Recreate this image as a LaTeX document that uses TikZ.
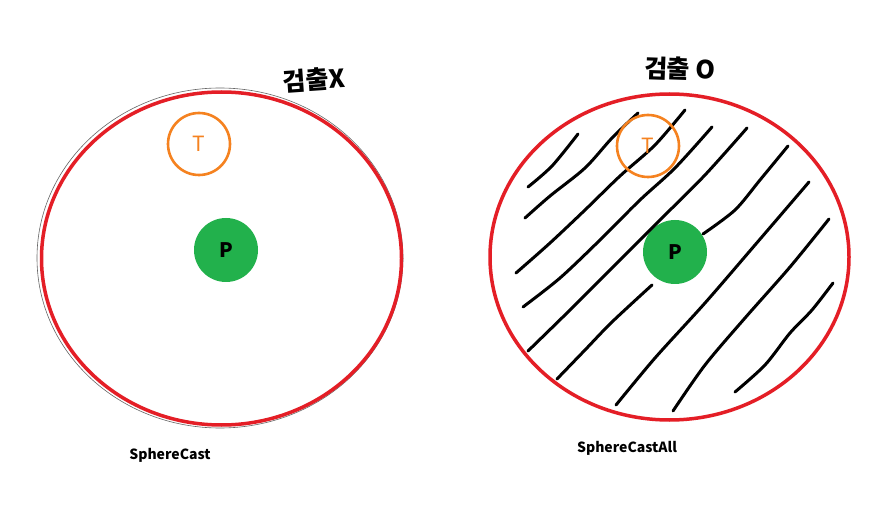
\documentclass[tikz,border=0pt]{standalone}
\usepackage{fontspec}
\setmainfont{Noto Sans CJK KR}
\newfontfamily\krfont{Noto Sans CJK KR}
\usetikzlibrary{shapes.geometric}
\definecolor{redc}{RGB}{228,30,38}
\definecolor{orangec}{RGB}{245,130,32}
\definecolor{greenc}{RGB}{34,177,76}
\tikzset{
  bigsphere/.style={ellipse, draw=redc, line width=3.5pt, inner sep=0pt},
  ghost/.style={ellipse, draw=black!60, line width=0.6pt, inner sep=0pt},
  target/.style={circle, draw=orangec, line width=2.6pt, inner sep=0pt, minimum size=62pt, text=orangec, font=\fontsize{21}{21}\selectfont},
  player/.style={circle, fill=greenc, inner sep=0pt, minimum size=64pt, font=\bfseries\fontsize{20}{20}\selectfont},
  hatch/.style={line width=3pt, line cap=round, line join=round},
  caption/.style={font=\bfseries\fontsize{14}{14}\selectfont},
  hand/.style={font=\krfont\bfseries\fontsize{25}{25}\selectfont}
}
\begin{document}
\begin{tikzpicture}[x=1pt,y=-1pt]
\useasboundingbox (0,0) rectangle (884,505);
\fill[white] (0,0) rectangle (884,505);
% left
\node[ghost, minimum width=366pt, minimum height=340pt] (lout) at (220,258) {};
\node[bigsphere, minimum width=360pt, minimum height=333pt] (lsph) at (221.5,258.5) {};
\node[target] (lt) at (199,144) {T};
\node[player] (lp) at (226,250) {P};
\node[hand, rotate=4] (lh) at (314,80) {검출X};
\node[caption] (lc) at (170,455) {SphereCast};
% right
\node[bigsphere, minimum width=359pt, minimum height=326pt] (rsph) at (669.5,257) {};
\node[player] (rp) at (675,252) {P};
\begin{scope}[hatch]
\draw plot[smooth] coordinates {(528,187) (552,166) (578,134)};
\draw plot[smooth] coordinates {(525,218) (550,196) (585,168) (612,138) (638,113)};
\draw plot[smooth] coordinates {(516,273) (550,243) (585,210) (620,176) (655,145) (685,110)};
\draw plot[smooth] coordinates {(523,307) (560,278) (600,240) (640,200) (675,168) (712,127)};
\draw plot[smooth] coordinates {(528,351) (570,310) (615,265) (660,220) (705,175) (747,128)};
\draw plot[smooth] coordinates {(703,234) (735,210) (760,180) (788,146)};
\draw plot[smooth] coordinates {(557,379) (585,350) (612,322) (652,285)};
\draw plot[smooth] coordinates {(616,405) (655,358) (705,303) (755,245) (809,182)};
\draw plot[smooth] coordinates {(673,411) (705,365) (745,318) (790,267) (829,219)};
\draw plot[smooth] coordinates {(735,392) (765,365) (790,333) (812,310) (833,283)};
\end{scope}
\node[target] (rt) at (648,146) {T};
\node[hand, rotate=-2] (rh) at (680,69) {검출 O};
\node[caption] (rc) at (627,448) {SphereCastAll};
\end{tikzpicture}
\end{document}
